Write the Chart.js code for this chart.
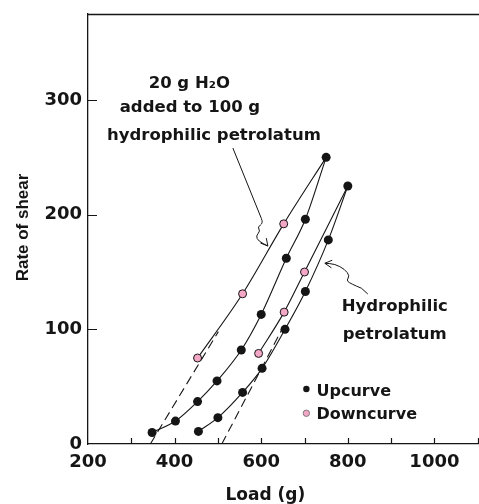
<!DOCTYPE html>
<html><head><meta charset="utf-8">
<script src="https://cdn.jsdelivr.net/npm/chart.js@4/dist/chart.umd.min.js"></script>
<style>html,body{margin:0;padding:0;background:#fff}#wrap{width:479px;height:504px}</style>
</head><body><div id="wrap"><canvas id="c" width="479" height="504"></canvas></div>
<script>
// ---- data (Load in g, Rate of shear) ----
const waterUpLoad    = [348, 402, 453, 498, 554, 600, 658, 702, 750];
const waterUpShear   = [10, 20, 37, 55, 82, 113, 162, 196, 250];
const waterDownLoad  = [453, 557, 652, 750];
const waterDownShear = [75, 131, 192, 250];
const plainUpLoad    = [455, 500, 557, 602, 655, 702, 755, 800];
const plainUpShear   = [11, 23, 45, 66, 100, 133, 178, 225];
const plainDownLoad  = [594, 653, 700, 800];
const plainDownShear = [79, 115, 150, 225];
const waterExtrapLoad  = [344, 501];
const waterExtrapShear = [0, 98];
const plainExtrapLoad  = [509, 648];
const plainExtrapShear = [0, 100];
const xTickLabels = [200, 400, 600, 800, 1000];
const xTickMarks  = [300, 400, 500, 600, 700, 800, 900, 1000, 1100];
const yTickLabels = [0, 100, 200, 300];

// annotation paths (data coordinates)
const waterArrow = [[534.6,258.1],[600.4,196.7],[605.0,192.7],[591.2,189.2],[598.1,185.8],[587.7,181.4],[593.5,177.0],[615.4,172.7]];
const plainArrow = [[846.2,130.8],[831.7,135.8],[804.6,140.1],[797.0,143.0],[804.6,146.5],[793.1,152.4],[770.0,157.0],[747.0,157.6]];

const BLACK = '#151515';
const PINK = '#f3a7c6';
const pairs = (xs, ys) => xs.map((v, i) => ({x: v, y: ys[i]}));

const lineBase = {showLine: true, borderColor: BLACK, borderWidth: 1.1, cubicInterpolationMode: 'monotone', fill: false};

const annotate = {
  id: 'annotate',
  afterDatasetsDraw(chart) {
    const {ctx, chartArea: a, scales: {x, y}} = chart;
    const X = v => x.getPixelForValue(v), Y = v => y.getPixelForValue(v);
    ctx.save();
    // top frame line
    ctx.strokeStyle = BLACK; ctx.lineWidth = 1.3;
    ctx.beginPath(); ctx.moveTo(a.left, a.top + 0.5); ctx.lineTo(a.right, a.top + 0.5); ctx.stroke();
    // inward ticks
    ctx.lineWidth = 1.2; ctx.beginPath();
    for (const v of xTickMarks) { const p = Math.round(X(v)) + 0.5; ctx.moveTo(p, a.bottom); ctx.lineTo(p, a.bottom - 6); }
    for (const v of yTickLabels) { if (v === 0) continue; const p = Math.round(Y(v)) + 0.5; ctx.moveTo(a.left, p); ctx.lineTo(a.left + 9, p); }
    ctx.stroke();

    // arrows
    const drawArrow = (pts, headDeg) => {
      const P = pts.map(p => [X(p[0]), Y(p[1])]);
      ctx.lineWidth = 1; ctx.strokeStyle = BLACK;
      ctx.beginPath(); ctx.moveTo(P[0][0], P[0][1]);
      ctx.lineTo(P[1][0], P[1][1]);
      for (let i = 2; i < P.length - 1; i++) {
        const mx = (P[i][0] + P[i+1][0]) / 2, my = (P[i][1] + P[i+1][1]) / 2;
        ctx.quadraticCurveTo(P[i][0], P[i][1], mx, my);
      }
      const t = P[P.length - 1];
      ctx.lineTo(t[0], t[1]);
      ctx.stroke();
      const ang = headDeg * Math.PI / 180, L = 8, s = 0.5;
      ctx.beginPath();
      ctx.moveTo(t[0] - L * Math.cos(ang - s), t[1] - L * Math.sin(ang - s));
      ctx.lineTo(t[0], t[1]);
      ctx.lineTo(t[0] - L * Math.cos(ang + s), t[1] - L * Math.sin(ang + s));
      ctx.stroke();
    };
    drawArrow(waterArrow, 50);
    drawArrow(plainArrow, 186);

    // texts
    ctx.fillStyle = BLACK;
    ctx.font = 'bold 16.5px "DejaVu Sans"';
    ctx.textAlign = 'center'; ctx.textBaseline = 'alphabetic';
    ctx.fillText('20 g H\u2082O', X(434), Y(310.2));
    ctx.fillText('added to 100 g', X(435.4), Y(289.8));
    ctx.fillText('hydrophilic petrolatum', X(490.8), Y(265.1));
    ctx.fillText('Hydrophilic', X(908.5), Y(116));
    ctx.fillText('petrolatum', X(908.5), Y(91.6));

    // legend
    ctx.textAlign = 'left';
    ctx.font = 'bold 16px "DejaVu Sans"';
    ctx.beginPath(); ctx.arc(X(704.3), Y(48), 3.2, 0, Math.PI * 2); ctx.fillStyle = BLACK; ctx.fill();
    ctx.beginPath(); ctx.arc(X(704.3), Y(26.8), 3.2, 0, Math.PI * 2); ctx.fillStyle = PINK; ctx.fill();
    ctx.lineWidth = 0.8; ctx.strokeStyle = '#666'; ctx.stroke();
    ctx.fillStyle = BLACK;
    ctx.fillText('Upcurve', X(727.8), Y(41.9));
    ctx.fillText('Downcurve', X(727.8), Y(21.5));

    // axis titles
    ctx.font = 'bold 17px "DejaVu Sans"';
    ctx.textAlign = 'center';
    ctx.fillText('Load (g)', X(609.6), 500);
    ctx.save();
    ctx.font = 'bold 17px "Liberation Sans"';
    ctx.translate(28, (a.top + a.bottom) / 2 - 1.5);
    ctx.rotate(-Math.PI / 2);
    ctx.fillText('Rate of shear', 0, 0);
    ctx.restore();
    ctx.restore();
  }
};

new Chart(document.getElementById('c'), {
  type: 'scatter',
  data: {
    datasets: [
      {...lineBase, data: pairs(waterUpLoad, waterUpShear), pointRadius: 4.5, pointBackgroundColor: BLACK, pointBorderWidth: 0},
      {...lineBase, data: pairs(waterDownLoad, waterDownShear), pointRadius: ctx => ctx.dataIndex === waterDownLoad.length - 1 ? 0 : 4, pointBackgroundColor: PINK, pointBorderColor: BLACK, pointBorderWidth: 1},
      {...lineBase, data: pairs(plainUpLoad, plainUpShear), pointRadius: 4.5, pointBackgroundColor: BLACK, pointBorderWidth: 0},
      {...lineBase, data: pairs(plainDownLoad, plainDownShear), pointRadius: ctx => ctx.dataIndex === plainDownLoad.length - 1 ? 0 : 4, pointBackgroundColor: PINK, pointBorderColor: BLACK, pointBorderWidth: 1},
      {...lineBase, cubicInterpolationMode: 'default', tension: 0, borderDash: [9, 5], data: pairs(waterExtrapLoad, waterExtrapShear), pointRadius: 0},
      {...lineBase, cubicInterpolationMode: 'default', tension: 0, borderDash: [9, 5], data: pairs(plainExtrapLoad, plainExtrapShear), pointRadius: 0}
    ]
  },
  options: {
    responsive: false, animation: false, devicePixelRatio: 1,
    layout: {autoPadding: false, padding: {top: 14, left: 0, right: 0, bottom: 0}},
    plugins: {legend: {display: false}, tooltip: {enabled: false}},
    scales: {
      x: {
        type: 'linear', min: 200, max: 1103,
        afterBuildTicks: s => { s.ticks = xTickLabels.map(v => ({value: v})); },
        afterFit: s => { s.height = 60; s.paddingRight = 0; s.paddingLeft = 0; },
        grid: {display: true, drawOnChartArea: false, drawTicks: false},
        border: {display: true, color: BLACK, width: 1.3},
        ticks: {color: BLACK, font: {family: 'DejaVu Sans', weight: 'bold', size: 18}, padding: 8, maxRotation: 0, autoSkip: false, callback: v => String(v)}
      },
      y: {
        type: 'linear', min: 0, max: 375,
        afterBuildTicks: s => { s.ticks = yTickLabels.map(v => ({value: v})); },
        afterFit: s => { s.width = 88; s.paddingTop = 0; s.paddingBottom = 0; },
        grid: {display: true, drawOnChartArea: false, drawTicks: false},
        border: {display: true, color: BLACK, width: 1.3},
        ticks: {color: BLACK, font: {family: 'DejaVu Sans', weight: 'bold', size: 18}, padding: 6, callback: v => String(v)}
      }
    }
  },
  plugins: [annotate]
});
</script></body></html>
